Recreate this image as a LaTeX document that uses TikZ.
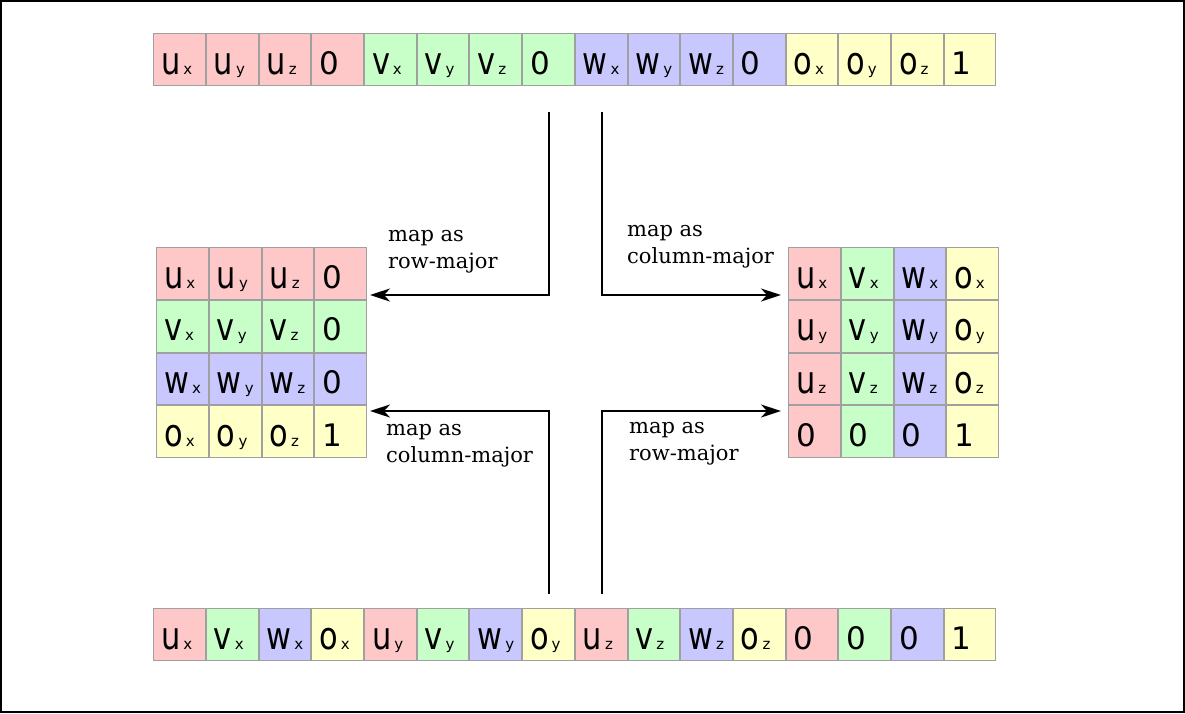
\documentclass[tikz,border=0pt]{standalone}
\usepackage{fontspec}
\usepackage{graphicx}
\newfontfamily\cellfont{DejaVu Sans}
\newfontfamily\notefont{DejaVu Serif}
\usetikzlibrary{matrix,arrows.meta}
\definecolor{ured}{RGB}{255,200,200}
\definecolor{vgreen}{RGB}{200,255,200}
\definecolor{wblue}{RGB}{200,200,255}
\definecolor{oyellow}{RGB}{255,255,200}
\definecolor{cellgray}{RGB}{160,160,160}
\newcommand{\cmp}[2]{\scalebox{0.8}[1]{\fontsize{38}{38}\selectfont #1}\kern3pt{\fontsize{15}{15}\selectfont #2}}
\newcommand{\cellnum}[1]{{\fontsize{31}{31}\selectfont #1}}
\tikzset{
  cell/.style={draw=cellgray, line width=1pt, outer sep=0pt, inner xsep=7.5pt, inner ysep=0pt,
    text width=36.7pt, text height=40.5pt, text depth=11.2pt, align=left, font=\cellfont},
  ucell/.style={cell, fill=ured},
  vcell/.style={cell, fill=vgreen},
  wcell/.style={cell, fill=wblue},
  ocell/.style={cell, fill=oyellow},
  maparrow/.style={line width=2.2pt, -{Stealth[length=20pt,width=13pt,inset=6pt]}},
  note/.style={font={\notefont\fontsize{21}{26.5}\selectfont}, align=left, inner sep=0pt, anchor=base west},
}
\begin{document}
\begin{tikzpicture}[x=1pt,y=-1pt]
\useasboundingbox (0,0) rectangle (1185,713);
\draw[line width=2pt] (1,1) rectangle (1184,712);
% the 16 values in memory order
\matrix (toprow) [anchor=north west, inner sep=0pt] at (153,33) {
  \node[ucell] {\cmp{u}{x}};
 &\node[ucell] {\cmp{u}{y}};
 &\node[ucell] {\cmp{u}{z}};
 &\node[ucell] {\cellnum{0}};
 &\node[vcell] {\cmp{v}{x}};
 &\node[vcell] {\cmp{v}{y}};
 &\node[vcell] {\cmp{v}{z}};
 &\node[vcell] {\cellnum{0}};
 &\node[wcell] {\cmp{w}{x}};
 &\node[wcell] {\cmp{w}{y}};
 &\node[wcell] {\cmp{w}{z}};
 &\node[wcell] {\cellnum{0}};
 &\node[ocell] {\cmp{o}{x}};
 &\node[ocell] {\cmp{o}{y}};
 &\node[ocell] {\cmp{o}{z}};
 &\node[ocell] {\cellnum{1}};\\
};
% row-major view
\matrix (lmat) [anchor=north west, inner sep=0pt] at (156,247) {
  \node[ucell] {\cmp{u}{x}}; &\node[ucell] {\cmp{u}{y}}; &\node[ucell] {\cmp{u}{z}}; &\node[ucell] {\cellnum{0}};\\
  \node[vcell] {\cmp{v}{x}}; &\node[vcell] {\cmp{v}{y}}; &\node[vcell] {\cmp{v}{z}}; &\node[vcell] {\cellnum{0}};\\
  \node[wcell] {\cmp{w}{x}}; &\node[wcell] {\cmp{w}{y}}; &\node[wcell] {\cmp{w}{z}}; &\node[wcell] {\cellnum{0}};\\
  \node[ocell] {\cmp{o}{x}}; &\node[ocell] {\cmp{o}{y}}; &\node[ocell] {\cmp{o}{z}}; &\node[ocell] {\cellnum{1}};\\
};
% column-major view
\matrix (rmat) [anchor=north west, inner sep=0pt] at (788,247) {
  \node[ucell] {\cmp{u}{x}}; &\node[vcell] {\cmp{v}{x}}; &\node[wcell] {\cmp{w}{x}}; &\node[ocell] {\cmp{o}{x}};\\
  \node[ucell] {\cmp{u}{y}}; &\node[vcell] {\cmp{v}{y}}; &\node[wcell] {\cmp{w}{y}}; &\node[ocell] {\cmp{o}{y}};\\
  \node[ucell] {\cmp{u}{z}}; &\node[vcell] {\cmp{v}{z}}; &\node[wcell] {\cmp{w}{z}}; &\node[ocell] {\cmp{o}{z}};\\
  \node[ucell] {\cellnum{0}}; &\node[vcell] {\cellnum{0}}; &\node[wcell] {\cellnum{0}}; &\node[ocell] {\cellnum{1}};\\
};
% the transposed memory order
\matrix (botrow) [anchor=north west, inner sep=0pt] at (153,608) {
  \node[ucell] {\cmp{u}{x}};
 &\node[vcell] {\cmp{v}{x}};
 &\node[wcell] {\cmp{w}{x}};
 &\node[ocell] {\cmp{o}{x}};
 &\node[ucell] {\cmp{u}{y}};
 &\node[vcell] {\cmp{v}{y}};
 &\node[wcell] {\cmp{w}{y}};
 &\node[ocell] {\cmp{o}{y}};
 &\node[ucell] {\cmp{u}{z}};
 &\node[vcell] {\cmp{v}{z}};
 &\node[wcell] {\cmp{w}{z}};
 &\node[ocell] {\cmp{o}{z}};
 &\node[ucell] {\cellnum{0}};
 &\node[vcell] {\cellnum{0}};
 &\node[wcell] {\cellnum{0}};
 &\node[ocell] {\cellnum{1}};\\
};
% arrows
\coordinate (tl) at (549,112);
\coordinate (tr) at (602,112);
\coordinate (bl) at (549,594);
\coordinate (br) at (602,594);
\coordinate (lin1) at (370,295);
\coordinate (rin1) at (781,295);
\coordinate (lin2) at (370,411);
\coordinate (rin2) at (781,411);
\draw[maparrow] (tl) |- (lin1);
\draw[maparrow] (tr) |- (rin1);
\draw[maparrow] (bl) |- (lin2);
\draw[maparrow] (br) |- (rin2);
\node[note] (nrow1) at (388,268) {map as\\row-major};
\node[note] (ncol1) at (627,263) {map as\\column-major};
\node[note] (ncol2) at (386,462) {map as\\column-major};
\node[note] (nrow2) at (629,460) {map as\\row-major};
\end{tikzpicture}
\end{document}
